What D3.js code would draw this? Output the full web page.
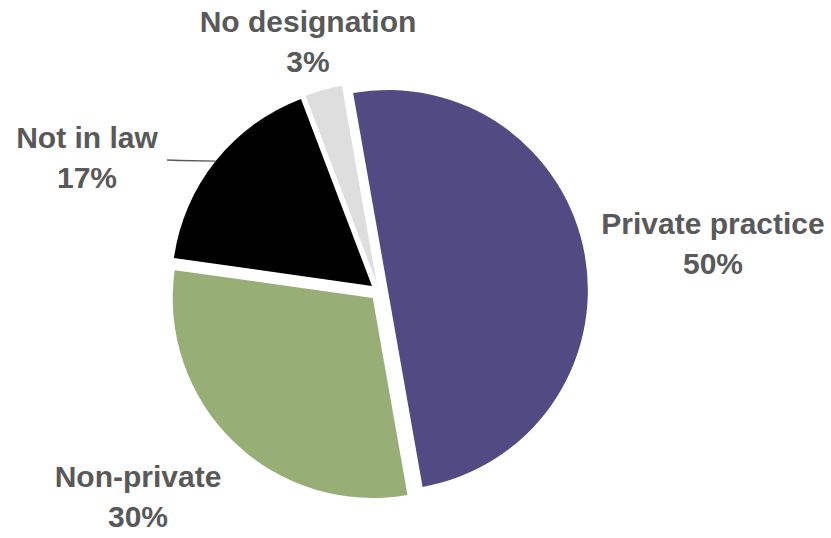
<!DOCTYPE html>
<html>
<head>
<meta charset="utf-8">
<script src="https://cdn.jsdelivr.net/npm/d3@7"></script>
<style>
  html, body { margin: 0; padding: 0; background: #fff; }
  svg { display: block; }
  text { font-family: "Liberation Sans", Arial, sans-serif; font-weight: bold; fill: #595959; }
</style>
</head>
<body>
<svg id="chart" width="831" height="538"></svg>
<script>
// Share of designations
const categories = ["Private practice", "Non-private", "Not in law", "No designation"];
const values = [50, 30, 17, 3];
const valueLabels = ["50%", "30%", "17%", "3%"];
const colors = ["#524A82", "#97AE76", "#000000", "#DEDEDE"];

// Label anchors (center x, first baseline y)
const labelAnchors = [[713, 234], [138, 487], [87, 148], [308, 32]];

const width = 831, height = 538;
const cx = 379, cy = 291.5;
const radius = 200;
const explode = 9;
const startDeg = -10;

const svg = d3.select("#chart");

const pie = d3.pie()
  .sort(null)
  .value(d => d)
  .startAngle(startDeg * Math.PI / 180)
  .endAngle(startDeg * Math.PI / 180 + 2 * Math.PI);

const arcs = pie(values);
const arc = d3.arc().innerRadius(0).outerRadius(radius);

const g = svg.append("g").attr("transform", `translate(${cx},${cy})`);

// Each slice is pulled out along its bisector
function offset(d, dist) {
  const mid = (d.startAngle + d.endAngle) / 2;
  return [Math.sin(mid) * dist, -Math.cos(mid) * dist];
}

g.selectAll("path.slice")
  .data(arcs)
  .join("path")
  .attr("class", "slice")
  .attr("d", arc)
  .attr("fill", (d, i) => colors[i])
  .attr("transform", d => {
    const [ox, oy] = offset(d, explode);
    return `translate(${ox},${oy})`;
  });

// Leader line for "Not in law"
{
  const d = arcs[2];
  const mid = (d.startAngle + d.endAngle) / 2;
  const [ox, oy] = offset(d, explode);
  const ex = cx + ox + Math.sin(mid) * radius;
  const ey = cy + oy - Math.cos(mid) * radius;
  const [lx, ly] = labelAnchors[2];
  svg.append("path")
    .attr("d", d3.line()([[lx + 80, ly + 12], [lx + 93, ly + 12.5], [ex, ey]]))
    .attr("fill", "none")
    .attr("stroke", "#595959")
    .attr("stroke-width", 1.3);
}

// Category and percentage labels
const labels = svg.selectAll("text.label")
  .data(categories)
  .join("text")
  .attr("class", "label")
  .attr("text-anchor", "middle")
  .attr("font-size", 30)
  .attr("x", (d, i) => labelAnchors[i][0])
  .attr("y", (d, i) => labelAnchors[i][1]);

labels.append("tspan").text(d => d);
labels.append("tspan")
  .attr("x", (d, i) => labelAnchors[i][0])
  .attr("dy", 40)
  .text((d, i) => valueLabels[i]);
</script>
</body>
</html>
